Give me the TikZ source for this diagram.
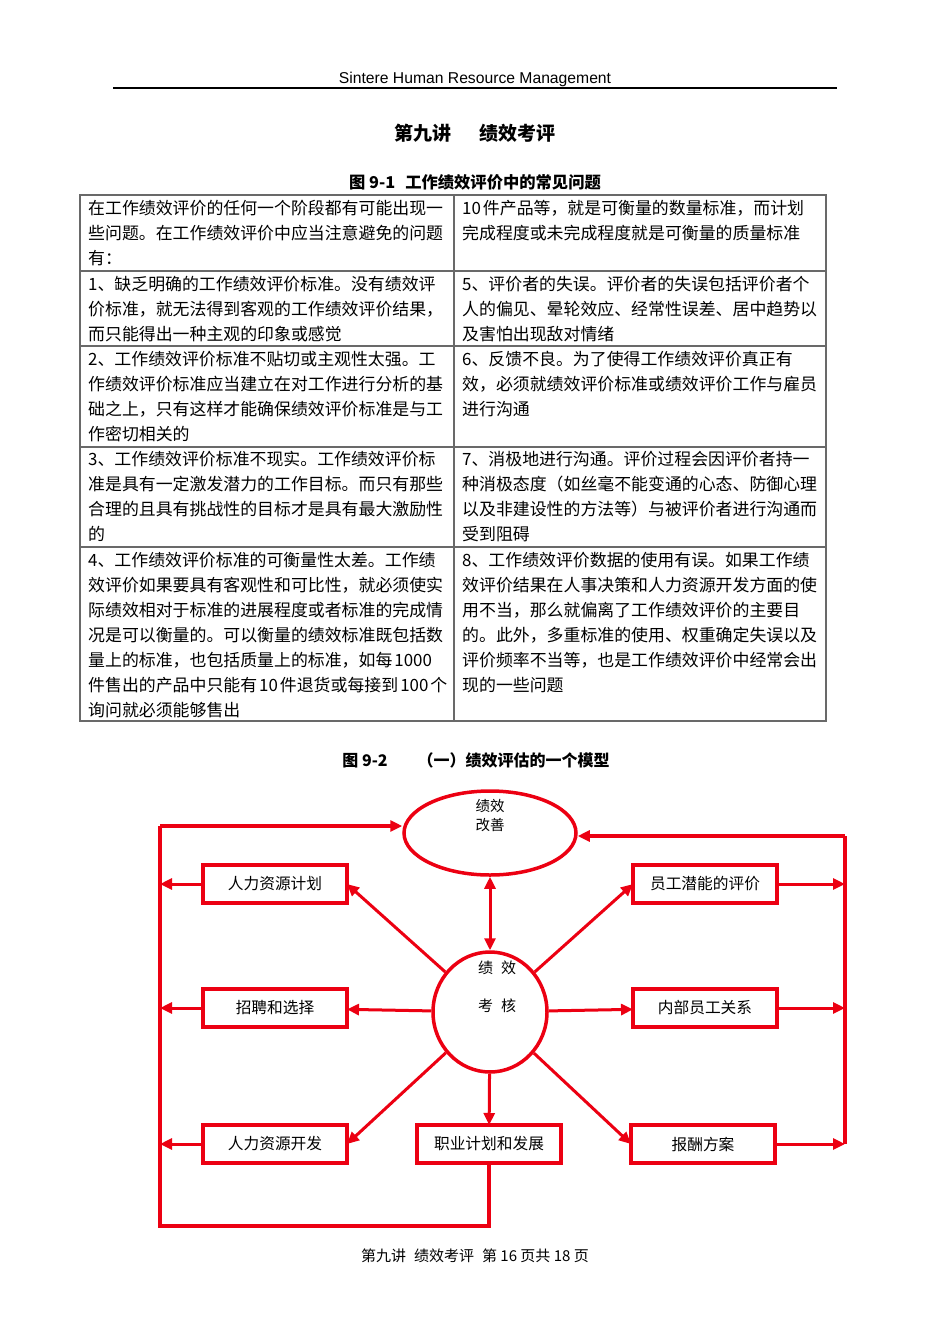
\documentclass[tikz,border=0pt]{standalone}
\usepackage{fontspec}
\setmainfont{Noto Sans CJK SC}
\newfontfamily\headfont{Liberation Sans}
\usepackage{tikz}
\usetikzlibrary{positioning,arrows.meta,shapes.geometric}
\definecolor{chartred}{RGB}{236,0,18}
\definecolor{rulegray}{RGB}{105,105,105}

\begin{document}
\begin{tikzpicture}[x=1pt, y=-1pt,
            cell/.style={anchor=base west, text width=420pt, align=left, inner sep=0pt, font=\fontsize{16.9}{25}\selectfont},
            box/.style={draw=chartred, line width=3.5pt, rectangle, minimum width=144pt, minimum height=38pt, inner sep=0pt, outer sep=0pt, font=\fontsize{15.7}{18}\selectfont},
            oval/.style={draw=chartred, line width=3.5pt, ellipse, inner sep=0pt},
            arrow/.style={-{Triangle[length=12pt,width=11pt]}, line width=3pt, chartred},
            twoway/.style={{Triangle[length=12pt,width=11pt]}-{Triangle[length=12pt,width=11pt]}, line width=3pt, chartred},
            feedback/.style={line width=3.5pt, chartred},
            tablerule/.style={line width=1.2pt, rulegray}
        ]
            \useasboundingbox (0,0) rectangle (950,1344);

            % page head
            \node (head) [anchor=base, inner sep=0pt, font=\headfont\fontsize{15.7}{18}\selectfont] at (475,83) {Sintere Human Resource Management};
            \draw [line width=1.5pt] (113,88) -- (837,88);
            \node (title) [inner sep=0pt, font=\bfseries\fontsize{19}{22}\selectfont] at (475,133) {第九讲\hspace{28pt}绩效考评};
            \node (fig1) [inner sep=0pt, font=\bfseries\fontsize{16.3}{18}\selectfont] at (475,182) {图 9-1\hspace{10pt}工作绩效评价中的常见问题};

            % table 9-1
            \draw [tablerule] (80,195) rectangle (826,721);
            \draw [tablerule] (454,195) -- (454,721);
            \foreach \y in {271,346,447,547}
                \draw [tablerule] (80,\y) -- (826,\y);

            \node (l1) [cell] at (88,214.4) {在工作绩效评价的任何一个阶段都有可能出现一\\些问题。在工作绩效评价中应当注意避免的问题\\有：};
            \node (l2) [cell] at (88,290.4) {1、缺乏明确的工作绩效评价标准。没有绩效评\\价标准，就无法得到客观的工作绩效评价结果，\\而只能得出一种主观的印象或感觉};
            \node (l3) [cell] at (88,365.4) {2、工作绩效评价标准不贴切或主观性太强。工\\作绩效评价标准应当建立在对工作进行分析的基\\础之上，只有这样才能确保绩效评价标准是与工\\作密切相关的};
            \node (l4) [cell] at (88,465.4) {3、工作绩效评价标准不现实。工作绩效评价标\\准是具有一定激发潜力的工作目标。而只有那些\\合理的且具有挑战性的目标才是具有最大激励性\\的};
            \node (l5) [cell] at (88,566.4) {4、工作绩效评价标准的可衡量性太差。工作绩\\效评价如果要具有客观性和可比性，就必须使实\\际绩效相对于标准的进展程度或者标准的完成情\\况是可以衡量的。可以衡量的绩效标准既包括数\\量上的标准，也包括质量上的标准，如每\hspace{2pt}1000\\件售出的产品中只能有\hspace{2pt}10\hspace{2pt}件退货或每接到\hspace{2pt}100\hspace{2pt}个\\询问就必须能够售出};

            \node (r1) [cell] at (462,214.4) {10\hspace{2pt}件产品等，就是可衡量的数量标准，而计划\\完成程度或未完成程度就是可衡量的质量标准};
            \node (r2) [cell] at (462,290.4) {5、评价者的失误。评价者的失误包括评价者个\\人的偏见、晕轮效应、经常性误差、居中趋势以\\及害怕出现敌对情绪};
            \node (r3) [cell] at (462,365.4) {6、反馈不良。为了使得工作绩效评价真正有\\效，必须就绩效评价标准或绩效评价工作与雇员\\进行沟通};
            \node (r4) [cell] at (462,465.4) {7、消极地进行沟通。评价过程会因评价者持一\\种消极态度（如丝毫不能变通的心态、防御心理\\以及非建设性的方法等）与被评价者进行沟通而\\受到阻碍};
            \node (r5) [cell] at (462,566.4) {8、工作绩效评价数据的使用有误。如果工作绩\\效评价结果在人事决策和人力资源开发方面的使\\用不当，那么就偏离了工作绩效评价的主要目\\的。此外，多重标准的使用、权重确定失误以及\\评价频率不当等，也是工作绩效评价中经常会出\\现的一些问题};

            % figure 9-2
            \node (fig2) [inner sep=0pt, font=\bfseries\fontsize{16}{18}\selectfont] at (476,760) {图 9-2\hspace{30pt}（一）绩效评估的一个模型};

            \node (improve) [oval, minimum width=172pt, minimum height=84pt] at (490,833) {};
            \node (improvetext) [inner sep=0pt, align=center, font=\fontsize{14.5}{19}\selectfont] at (490,816) {绩效\\改善};
            \node (review) [oval, minimum width=114pt, minimum height=120pt] at (490,1012) {};
            \node (reviewtext) [inner sep=0pt, align=center, font=\fontsize{15}{38}\selectfont] at (497,987) {绩\hspace{8pt}效\\考\hspace{8pt}核};

            \node (hrplan) [box] at (275,884) {人力资源计划};
            \node (select) [box, below=86pt of hrplan] {招聘和选择};
            \node (hrdev) [box, below=98pt of select] {人力资源开发};
            \node (career) [box, right=70pt of hrdev] {职业计划和发展};
            \node (pay) [box, right=70pt of career] {报酬方案};
            \node (potential) [box, right=286pt of hrplan] {员工潜能的评价};
            \node (relation) [box, right=286pt of select] {内部员工关系};

            \coordinate (ltop) at (160,826);
            \coordinate (lbot) at (160,1226);
            \coordinate (rtop) at (845,836);

            \draw [twoway] (review) -- (improve);
            \draw [arrow] (review) -- (hrplan.east);
            \draw [arrow] (review) -- (select);
            \draw [arrow] (review) -- (hrdev.east);
            \draw [arrow] (review) -- (career);
            \draw [arrow] (review) -- (pay.west);
            \draw [arrow] (review) -- (relation);
            \draw [arrow] (review) -- (potential.west);

            \draw [feedback] (career.south) |- (lbot) -- (ltop);
            \draw [arrow, line width=3.5pt] (ltop) -- (ltop -| improve.west);
            \draw [feedback] (pay.east -| rtop) -- (rtop);
            \draw [arrow, line width=3.5pt] (rtop) -- (rtop -| improve.east);

            \draw [arrow] (hrplan) -- (hrplan -| ltop);
            \draw [arrow] (select) -- (select -| ltop);
            \draw [arrow] (hrdev) -- (hrdev -| ltop);
            \draw [arrow] (potential) -- (potential -| rtop);
            \draw [arrow] (relation) -- (relation -| rtop);
            \draw [arrow] (pay) -- (pay -| rtop);

            % page foot
            \node (foot) [inner sep=0pt, font=\fontsize{15}{18}\selectfont] at (475,1256) {第九讲\hspace{8pt}绩效考评\hspace{8pt}第 16 页共 18 页};
        \end{tikzpicture}
\end{document}
